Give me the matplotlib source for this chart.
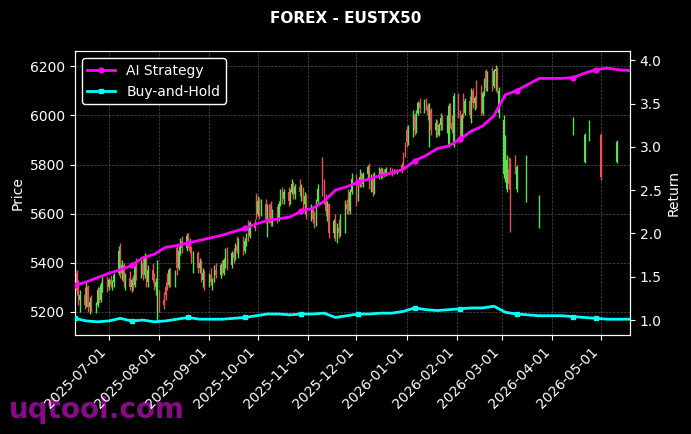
import numpy as np
import pandas as pd
import matplotlib
matplotlib.use("Agg")
import matplotlib.pyplot as plt
import matplotlib.dates as mdates

# ---------------- data ----------------
candle_start = "2025-06-10"
open_ = [5300, 5360, 5290, 5250,
         5270, 5230, 5300, 5220, 5240,
         5210, 5230, 5290, 5250, 5310,
         5330, 5300, 5330, 5310, 5320,
         5360, 5450, 5360, 5390, 5320,
         5340, 5300, 5330, 5310, 5380,
         5350, 5400, 5350, 5420, 5320,
         5370, 5330, 5300, 5200, 5280,
         5250, 5300, 5340, 5310, 5370,
         5330, 5460, 5380, 5450, 5490,
         5460, 5510, 5480, 5450, 5420,
         5440, 5380, 5400, 5330, 5360,
         5310, 5350, 5320, 5330, 5370,
         5350, 5390, 5360, 5410, 5440,
         5390, 5440, 5420, 5470, 5450,
         5490, 5450, 5490, 5560, 5510,
         5560, 5670, 5600, 5650, 5600,
         5640, 5580, 5620, 5640, 5560,
         5610, 5580, 5640, 5690, 5660,
         5690, 5650, 5690, 5720, 5680,
         5710, 5690, 5700, 5640, 5670,
         5600, 5620, 5600, 5560, 5650,
         5800, 5720, 5660, 5610, 5640,
         5520, 5570, 5510, 5540, 5520,
         5530, 5640, 5690, 5610, 5690,
         5740, 5660, 5730, 5750, 5720,
         5760, 5790, 5720, 5750, 5690,
         5760, 5780, 5750, 5770, 5760,
         5780, 5770, 5765, 5775, 5770,
         5800, 5840, 5880, 5940, 5890,
         5950, 6000, 5940, 6010, 6050,
         6030, 6060, 6040, 5890, 6020,
         5940, 5970, 5920, 5960, 5990,
         5950, 5880, 6040, 5970, 5880,
         6080, 6010, 5910, 6080, 6010,
         6060, 5980, 6100, 6050, 6140,
         6120, 6010, 6090, 6180, 6110,
         6170, 6120, 6180, 6190, 6010,
         5760, 5740, 5700, 5780, 5820]
high = [5380, 5370, 5330, 5290,
        5300, 5320, 5310, 5260, 5270,
        5240, 5300, 5300, 5320, 5350,
        5345, 5340, 5350, 5330, 5360,
        5470, 5480, 5410, 5400, 5360,
        5365, 5340, 5350, 5390, 5420,
        5410, 5420, 5440, 5430, 5390,
        5400, 5360, 5340, 5410, 5290,
        5280, 5320, 5360, 5380, 5380,
        5370, 5480, 5470, 5500, 5510,
        5520, 5520, 5500, 5470, 5450,
        5450, 5420, 5410, 5380, 5370,
        5360, 5380, 5340, 5390, 5400,
        5400, 5410, 5420, 5460, 5465,
        5450, 5460, 5480, 5510, 5500,
        5510, 5500, 5520, 5575, 5570,
        5580, 5685, 5670, 5665, 5660,
        5660, 5640, 5640, 5650, 5620,
        5630, 5650, 5700, 5710, 5700,
        5710, 5700, 5740, 5730, 5720,
        5740, 5720, 5710, 5690, 5680,
        5640, 5630, 5610, 5660, 5720,
        5830, 5740, 5680, 5650, 5645,
        5580, 5600, 5560, 5580, 5600,
        5655, 5660, 5700, 5700, 5765,
        5760, 5740, 5780, 5770, 5770,
        5800, 5805, 5760, 5765, 5770,
        5790, 5790, 5785, 5780, 5790,
        5790, 5785, 5780, 5780, 5780,
        5810, 5850, 5890, 5955, 5960,
        6020, 6010, 6020, 6060, 6070,
        6065, 6070, 6050, 6050, 6030,
        5985, 5980, 5970, 6010, 6000,
        6000, 6050, 6050, 6000, 6090,
        6090, 6020, 6010, 6090, 6070,
        6080, 6110, 6110, 6080, 6145,
        6125, 6100, 6150, 6190, 6180,
        6196, 6190, 6204, 6195, 6115,
        6000, 5920, 5840, 5830, 5826]
low = [5280, 5270, 5230, 5200,
       5210, 5220, 5200, 5190, 5200,
       5195, 5220, 5235, 5240, 5280,
       5280, 5290, 5300, 5290, 5300,
       5350, 5340, 5330, 5300, 5290,
       5290, 5280, 5290, 5300, 5330,
       5340, 5330, 5340, 5300, 5300,
       5320, 5290, 5270, 5168, 5200,
       5210, 5250, 5290, 5300, 5300,
       5300, 5350, 5370, 5430, 5440,
       5450, 5460, 5440, 5400, 5360,
       5360, 5360, 5320, 5300, 5290,
       5300, 5310, 5290, 5320, 5340,
       5340, 5350, 5350, 5380, 5370,
       5380, 5400, 5410, 5440, 5420,
       5430, 5440, 5470, 5490, 5500,
       5530, 5580, 5590, 5580, 5590,
       5560, 5505, 5560, 5550, 5550,
       5560, 5570, 5630, 5640, 5640,
       5630, 5640, 5680, 5660, 5660,
       5670, 5650, 5620, 5600, 5580,
       5570, 5560, 5540, 5550, 5640,
       5670, 5640, 5590, 5570, 5500,
       5500, 5490, 5480, 5500, 5510,
       5520, 5600, 5600, 5600, 5680,
       5630, 5650, 5710, 5710, 5710,
       5740, 5700, 5690, 5670, 5680,
       5740, 5740, 5745, 5750, 5755,
       5760, 5755, 5760, 5765, 5760,
       5765, 5790, 5830, 5870, 5880,
       5910, 5920, 5930, 6000, 6010,
       6010, 6020, 5980, 5870, 5920,
       5910, 5910, 5915, 5940, 5940,
       5930, 5870, 5950, 5930, 5870,
       5990, 5890, 5900, 5990, 6000,
       5990, 5970, 6030, 6020, 6030,
       6000, 6000, 6080, 6100, 6100,
       6100, 6110, 6100, 6090, 5990,
       5745, 5730, 5690, 5700, 5525]
close = [5360, 5290, 5250, 5270,
         5230, 5300, 5220, 5240, 5210,
         5230, 5290, 5250, 5310, 5330,
         5300, 5330, 5310, 5320, 5350,
         5450, 5360, 5390, 5320, 5340,
         5300, 5330, 5310, 5380, 5350,
         5400, 5350, 5420, 5320, 5370,
         5330, 5300, 5320, 5280, 5220,
         5230, 5270, 5310, 5370, 5320,
         5360, 5380, 5450, 5490, 5460,
         5510, 5480, 5450, 5420, 5440,
         5380, 5400, 5330, 5360, 5310,
         5350, 5320, 5330, 5370, 5350,
         5390, 5360, 5410, 5440, 5390,
         5440, 5420, 5470, 5450, 5490,
         5450, 5490, 5500, 5510, 5560,
         5540, 5600, 5650, 5600, 5640,
         5580, 5620, 5570, 5560, 5610,
         5580, 5640, 5690, 5660, 5690,
         5650, 5690, 5720, 5680, 5710,
         5690, 5700, 5640, 5670, 5600,
         5620, 5580, 5560, 5650, 5700,
         5720, 5660, 5610, 5640, 5520,
         5570, 5510, 5540, 5520, 5590,
         5640, 5620, 5610, 5690, 5740,
         5660, 5730, 5750, 5720, 5760,
         5790, 5720, 5750, 5690, 5760,
         5780, 5750, 5770, 5760, 5780,
         5770, 5765, 5775, 5770, 5770,
         5775, 5800, 5840, 5890, 5950,
         6000, 5940, 6010, 6050, 6030,
         6060, 6040, 6000, 6020, 5940,
         5970, 5920, 5960, 5990, 5950,
         5990, 6040, 5970, 5940, 6080,
         6010, 5910, 6000, 6010, 6060,
         6000, 6100, 6050, 6070, 6040,
         6010, 6090, 6140, 6110, 6170,
         6120, 6180, 6190, 6100, 6100,
         5980, 5900, 5820, 5720, 5560]

# sparse candles after early March 2026
sparse_dates = ["2026-03-09", "2026-03-10", "2026-03-16", "2026-03-24",
                "2026-04-14", "2026-04-21", "2026-04-24", "2026-05-01", "2026-05-11"]
sparse_open = [5830, 5700, 5660, 5550, 5925, 5810, 5900, 5920, 5810]
sparse_high = [5840, 5800, 5838, 5675, 5992, 5928, 5980, 5928, 5900]
sparse_low = [5760, 5690, 5647, 5540, 5920, 5806, 5895, 5736, 5806]
sparse_close = [5770, 5790, 5820, 5660, 5985, 5920, 5970, 5750, 5890]

# weekly equity curves
curve_start = "2025-06-10"
ai_strategy = [1.40, 1.44, 1.49, 1.54, 1.58, 1.63, 1.72, 1.76, 1.84, 1.86,
               1.89, 1.92, 1.95, 1.98, 2.02, 2.06, 2.11, 2.15, 2.17, 2.19,
               2.26, 2.29, 2.37, 2.50, 2.54, 2.59, 2.63, 2.67, 2.70, 2.74,
               2.84, 2.90, 2.98, 3.01, 3.09, 3.18, 3.24, 3.36, 3.60, 3.65,
               3.72, 3.79, 3.79, 3.79, 3.80, 3.85, 3.89, 3.91, 3.89, 3.88]
buy_hold = [1.02, 0.99, 0.98, 0.99, 1.02, 0.99, 1.00, 0.98, 0.99, 1.01,
            1.03, 1.01, 1.01, 1.01, 1.02, 1.03, 1.05, 1.07, 1.07, 1.06,
            1.07, 1.07, 1.08, 1.03, 1.05, 1.07, 1.07, 1.08, 1.08, 1.10,
            1.14, 1.12, 1.11, 1.12, 1.13, 1.14, 1.14, 1.16, 1.09, 1.07,
            1.06, 1.05, 1.05, 1.05, 1.04, 1.03, 1.02, 1.01, 1.01, 1.01]

title = "FOREX - EUSTX50"

# ---------------- plotting ----------------
GREEN = "#55e34a"
RED = "#e8505a"

fig = plt.figure(figsize=(6.91, 4.34), dpi=100, facecolor="black")
ax = fig.add_axes([0.1085, 0.228, 0.803, 0.654])
ax.set_facecolor("black")

d_dense = pd.bdate_range(candle_start, periods=len(close))
d_all = list(d_dense) + list(pd.to_datetime(sparse_dates))
o = np.array(open_ + sparse_open, float)
h = np.array(high + sparse_high, float)
l = np.array(low + sparse_low, float)
c = np.array(close + sparse_close, float)
x = mdates.date2num(pd.to_datetime(d_all))
cols = [GREEN if cc >= oo else RED for oo, cc in zip(o, c)]

ax.vlines(x, l, h, colors=cols, linewidth=1.0, zorder=2)
ax.bar(x, c - o, bottom=o, width=0.6, color=cols, linewidth=0, zorder=2)

ax.set_ylim(5106, 6261)
ax.set_yticks([5200, 5400, 5600, 5800, 6000, 6200])
ax.set_ylabel("Price", color="white")
ax.grid(True, color="gray", linestyle="--", linewidth=0.5, alpha=0.6)

ax2 = ax.twinx()
wdates = pd.date_range(curve_start, periods=len(ai_strategy), freq="7D")
marks = [0, 5, 10, 15, 20, 25, 30, 34, 39, 44, 46]
ax2.plot(wdates, ai_strategy, color="magenta", linewidth=2, marker="o",
         markersize=3.5, markevery=marks, label="AI Strategy", zorder=3)
ax2.plot(wdates, buy_hold, color="cyan", linewidth=2, marker="s",
         markersize=3.5, markevery=marks, label="Buy-and-Hold", zorder=3)
ax2.set_ylim(0.827, 4.104)
ax2.set_yticks([1.0, 1.5, 2.0, 2.5, 3.0, 3.5, 4.0])
ax2.set_ylabel("Return", color="white")

ax.set_xlim(mdates.date2num(wdates[0]), mdates.date2num(wdates[-1]))
ax.xaxis.set_major_locator(mdates.MonthLocator())
ax.xaxis.set_major_formatter(mdates.DateFormatter("%Y-%m-%d"))
for lab in ax.get_xticklabels():
    lab.set_rotation(45)
    lab.set_ha("right")

for a in (ax, ax2):
    a.tick_params(colors="white", labelsize=10)
    for s in a.spines.values():
        s.set_color("white")

leg = ax2.legend(loc="upper left", facecolor="black", edgecolor="white",
                 labelcolor="white", fontsize=10, framealpha=1.0)

fig.text(0.5, 0.958, title, color="white", fontweight="bold", fontsize=11,
         ha="center", va="center")
fig.text(0.013, 0.037, "uqtool.com", color="#880a88", fontsize=20,
         fontweight="bold", ha="left", va="baseline", zorder=-1)

fig.savefig("out.png", dpi=100, facecolor="black")
